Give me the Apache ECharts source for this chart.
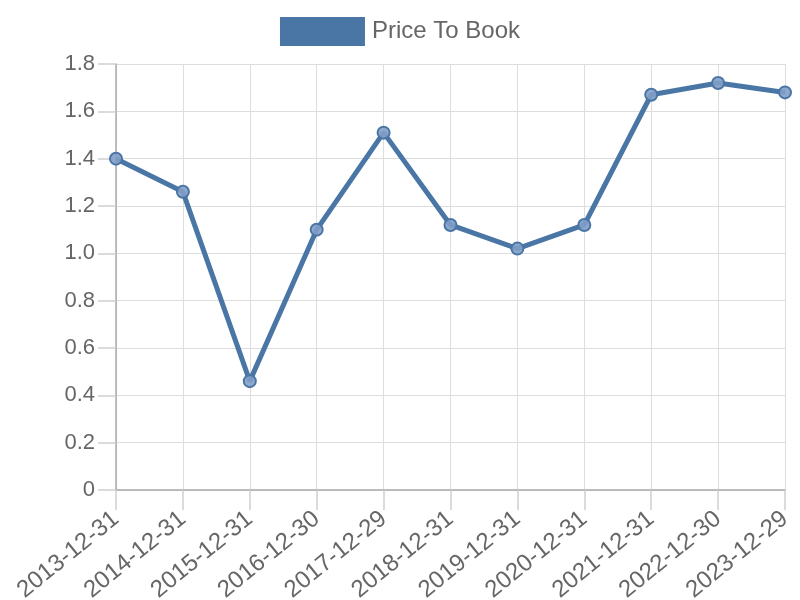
<!DOCTYPE html>
<html><head><meta charset="utf-8">
<script src="https://cdn.jsdelivr.net/npm/echarts@6/dist/echarts.min.js"></script>
<style>html,body{margin:0;padding:0;background:#fff}#c{width:800px;height:600px}</style>
</head><body><div id="c"></div>
<script>
const categories = ['2013-12-31','2014-12-31','2015-12-31','2016-12-30','2017-12-29','2018-12-31','2019-12-31','2020-12-31','2021-12-31','2022-12-30','2023-12-29'];
const priceToBook = [1.40,1.26,0.46,1.10,1.51,1.12,1.02,1.12,1.67,1.72,1.68];
const seriesName = 'Price To Book';

const chart = echarts.init(document.getElementById('c'));
const font = 'Liberation Sans, Arial, sans-serif';
chart.setOption({
  animation:false,
  textStyle:{fontFamily:font},
  legend:{top:12,left:'center',itemWidth:85,itemHeight:29,itemGap:10,icon:'rect',
    textStyle:{fontSize:24,color:'#666',fontFamily:font,padding:[0,0,0,2]},
    itemStyle:{color:'#4a76a6',borderWidth:0},
    data:[seriesName]},
  grid:{left:116,right:15,top:64,bottom:110,containLabel:false,outerBoundsMode:'none'},
  xAxis:{type:'category',data:categories,boundaryGap:false,
    axisLine:{show:true,lineStyle:{color:'#aaa',width:1.5}},
    axisTick:{show:true,inside:false,length:20,interval:0,lineStyle:{color:'#d0d0d0',width:1.5}},
    splitLine:{show:true,lineStyle:{color:'#ddd'}},
    axisLabel:{rotate:39,fontSize:24,color:'#666',margin:26,fontFamily:font,interval:0}},
  yAxis:{type:'value',min:0,max:1.8,interval:0.2,
    axisLine:{show:true,lineStyle:{color:'#aaa',width:1.5}},
    axisTick:{show:true,inside:false,length:18,lineStyle:{color:'#d0d0d0',width:1.5}},
    splitLine:{show:true,lineStyle:{color:'#ddd'}},
    axisLabel:{fontSize:22,color:'#666',margin:21,fontFamily:font,
      formatter:v=>v===0?'0':v.toFixed(1)}},
  series:[{name:seriesName,type:'line',data:priceToBook,
    lineStyle:{color:'#4a76a6',width:5},
    symbol:'circle',symbolSize:12,
    itemStyle:{color:'rgba(130,160,200,0.9)',borderColor:'#4a76a6',borderWidth:2}}]
});
</script></body></html>
